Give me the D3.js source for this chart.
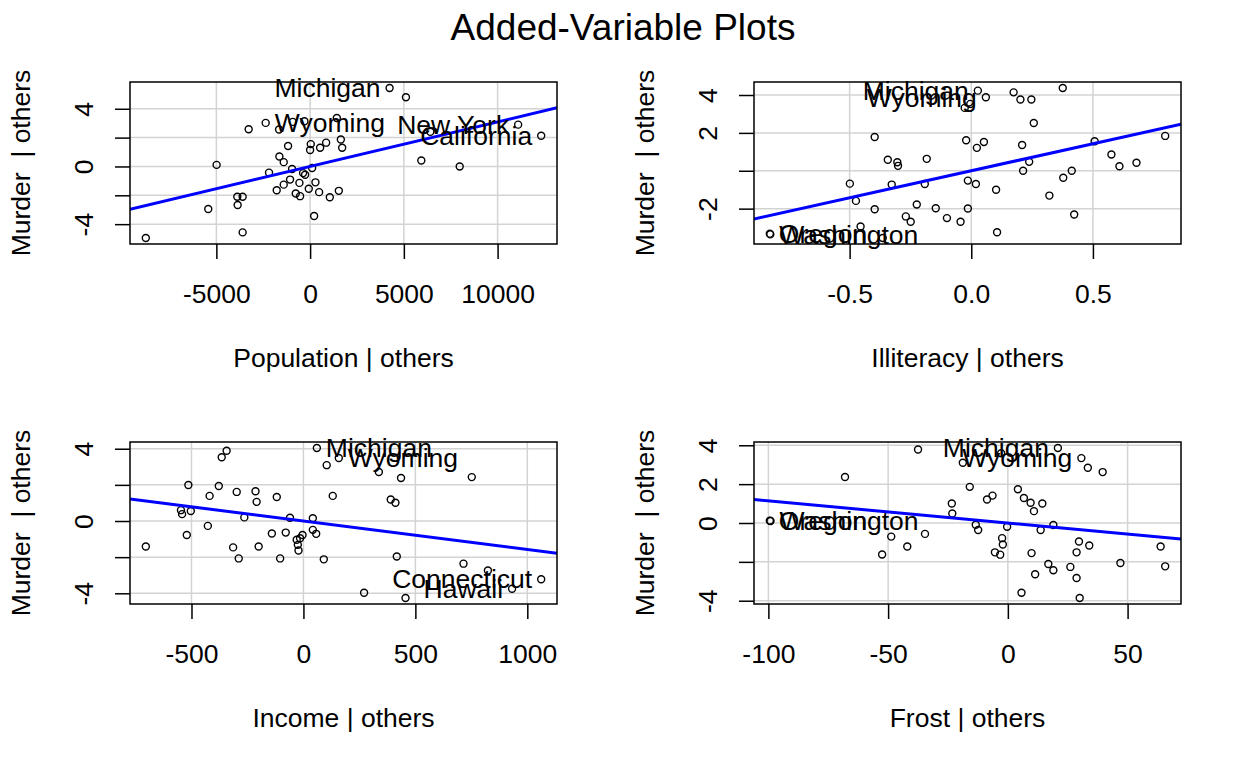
<!DOCTYPE html>
<html>
<head>
<meta charset="utf-8">
<script src="https://cdn.jsdelivr.net/npm/d3@7"></script>
<style>
	body { margin: 0; background: #fff; }
	text { font-family: "Liberation Sans", Arial, sans-serif; fill: #000; }
</style>
</head>
<body>
<div id="chart"></div>
<script>
	// labelled states come first in every series
	var popNames = ["Michigan", "Wyoming", "New York", "California"];
	var popX = [4239, -2369, 11096, 12325, -8763, -5432, -4987, -3883, -3598, -3865, -3598, -3277, -2191, -1781,
		-1656, -1639, -1407, -1407, -1175, -1069, -962, -926, -766, -534, -570, -374, -303, -267, -71, 0, 36, 107,
		214, 285, 481, 534, 855, 1051, 1425, 1532, 1639, 1710, 5111, 5931, 7979, 6412];
	var popY = [5.44, 3.02, 2.90, 2.13, -4.96, -2.95, 0.11, -2.10, -2.10, -2.67, -4.57, 2.58, -0.43, -1.65,
		2.56, 0.69, 0.30, -1.26, 1.42, -0.91, -0.18, 3.09, -1.87, -2.06, -1.14, -0.46, 3.13, -0.57, -1.55, 1.14, 1.55, -0.11,
		-3.43, -1.10, -1.78, 1.30, 1.65, -2.13, 3.36, -1.69, 1.87, 1.30, 4.80, 0.41, 0, 2.40];

	var illNames = ["Michigan", "Wyoming", "Oregon", "Washington"];
	var illX = [0.027, 0.060, -0.828, -0.826, -0.499, -0.474, -0.455, -0.397, -0.397, -0.364, -0.343, -0.327,
		-0.304, -0.301, -0.269, -0.249, -0.224, -0.191, -0.183, -0.146, -0.100, -0.044, -0.027, -0.021, -0.014,
		-0.014, -0.004, 0.019, 0.023, 0.052, 0.102, 0.106, 0.174, 0.202, 0.209, 0.213, 0.238, 0.247, 0.257, 0.321,
		0.376, 0.378, 0.413, 0.423, 0.507, 0.576, 0.609, 0.679, 0.797];
	var illY = [4.23, 3.88, -3.32, -3.36, -0.68, -1.59, -2.94, 1.78, -2.03, -3.55, 0.58, -0.73,
		0.45, 0.26, -2.41, -2.69, -1.78, -0.70, 0.63, -1.98, -2.50, -2.69, 3.32, 1.61, -0.52,
		-1.99, 3.53, -0.70, 1.21, 1.52, -1.00, -3.25, 4.14, 3.76, 1.36, 0, 0.47, 3.76, 2.52, -1.31,
		4.37, -0.37, 0, -2.31, 1.56, 0.86, 0.24, 0.42, 1.84];

	var incNames = ["Michigan", "Wyoming", "Connecticut", "Hawaii"];
	var incX = [60, 158, 1062, 932, -704, -547, -542, -521, -514, -503, -427, -419, -378, -365, -343, -314,
		-298, -289, -264, -214, -209, -200, -141, -119, -104, -79, -60, -30, -25, -22, -15, -4, 42, 42, 57, 91,
		104, 131, 271, 337, 390, 411, 417, 436, 456, 715, 752, 824];
	var incY = [4.04, 3.49, -3.22, -3.75, -1.41, 0.60, 0.38, -0.77, 1.99, 0.55, -0.27, 1.39, 1.94, 3.53, 3.89, -1.46,
		1.61, -2.07, 0.20, 1.65, 1.06, -1.41, -0.69, 1.33, -2.07, -0.64, 0.18, -1.04, -1.32, -1.63, -0.95, -0.77, 0.15, -0.49, -0.71, -2.12,
		3.09, 1.39, -3.97, 2.71, 1.19, 1.01, -1.96, 2.38, -4.26, -2.36, 2.43, -2.74];

	var frostNames = ["Michigan", "Wyoming", "Oregon", "Washington"];
	var frostX = [20.9, 30.7, -99.4, -99.1, -68.0, -52.5, -48.7, -42.0, -37.5, -34.6, -23.4, -23.2, -18.8, -15.9,
		-13.4, -12.4, -8.7, -6.4, -5.4, -3.2, -2.4, -2.1, -0.3, -2.8, 4.2, 5.7, 6.7, 9.5, 9.9, 10.9, 11.4, 13.7,
		14.4, 16.9, 19.0, 19.0, 26.1, 28.7, 28.7, 29.7, 30.0, 33.4, 34.0, 39.6, 47.0, 63.8, 65.7];
	var frostY = [3.86, 3.34, 0.12, 0.10, 2.37, -1.62, -0.70, -1.21, 3.78, -0.56, 1.00, 0.49, 3.10, 1.86,
		-0.09, -0.36, 1.21, 1.41, -1.51, -1.63, -0.78, -1.11, -0.19, 3.59, 1.74, -3.59, 1.29, 1.04, -1.55, 0.61, -2.64, -0.36,
		1.00, -2.11, -0.10, -2.43, -2.26, -1.51, -2.83, -0.95, -3.86, 2.84, -1.16, 2.62, -2.06, -1.21, -2.23];

	// slopes of the fitted lines (they pass through the origin)
	var slopes = [0.000309, 2.85, -0.00157, -0.0114];

	var popTicks = [-5000, 0, 5000, 10000];
	var illTicks = [-0.5, 0, 0.5];
	var incTicks = [-500, 0, 500, 1000];
	var frostTicks = [-100, -50, 0, 50];
	var yTicks = [-4, -2, 0, 2, 4];
	var yShown = [[4, 0, -4], [4, 2, -2], [4, 0, -4], [4, 2, 0, -4]];

	var W = 427, H = 162, fontSize = 26.5;

	// R prints a plain hyphen, not the unicode minus d3 uses
	function rfmt(spec) {
		var f = d3.format(spec);
		return function(d) { return f(d).replace("\u2212", "-"); };
	}

	var panels = [
		{xs: popX, ys: popY, names: popNames, ticks: popTicks, fmt: rfmt("d"), title: "Population | others", left: 130, top: 82},
		{xs: illX, ys: illY, names: illNames, ticks: illTicks, fmt: rfmt(".1f"), title: "Illiteracy | others", left: 754, top: 82},
		{xs: incX, ys: incY, names: incNames, ticks: incTicks, fmt: rfmt("d"), title: "Income | others", left: 130, top: 442},
		{xs: frostX, ys: frostY, names: frostNames, ticks: frostTicks, fmt: rfmt("d"), title: "Frost | others", left: 754, top: 442}
	];

	var svg = d3.select("#chart").append("svg")
		.attr("width", 1248)
		.attr("height", 768);

	svg.append("text")
		.attr("x", 623)
		.attr("y", 40)
		.attr("text-anchor", "middle")
		.style("font-size", "37px")
		.text("Added-Variable Plots");

	// R style range: data extent plus 4% each side
	function padded(vals) {
		var e = d3.extent(vals), p = (e[1] - e[0]) * 0.04;
		return [e[0] - p, e[1] + p];
	}

	var yfmt = rfmt("d");

	panels.forEach(function(p, i) {
		var x = d3.scaleLinear().domain(padded(p.xs)).range([p.left, p.left + W]);
		var y = d3.scaleLinear().domain(padded(p.ys)).range([p.top + H, p.top]);
		var yt = yTicks.filter(function(v) { return v >= y.domain()[0] && v <= y.domain()[1]; });
		var g = svg.append("g");

		g.append("clipPath").attr("id", "clip" + i)
			.append("rect")
			.attr("x", p.left).attr("y", p.top)
			.attr("width", W).attr("height", H);

		// grid
		g.selectAll(".vgrid").data(p.ticks).enter().append("line")
			.attr("x1", function(d) { return x(d); })
			.attr("x2", function(d) { return x(d); })
			.attr("y1", p.top).attr("y2", p.top + H)
			.attr("stroke", "#d3d3d3").attr("stroke-width", 1.5);
		g.selectAll(".hgrid").data(yt).enter().append("line")
			.attr("y1", function(d) { return y(d); })
			.attr("y2", function(d) { return y(d); })
			.attr("x1", p.left).attr("x2", p.left + W)
			.attr("stroke", "#d3d3d3").attr("stroke-width", 1.5);

		// points
		g.selectAll("circle").data(p.xs).enter().append("circle")
			.attr("cx", function(d) { return x(d); })
			.attr("cy", function(d, j) { return y(p.ys[j]); })
			.attr("r", 3.5)
			.attr("fill", "none")
			.attr("stroke", "#000")
			.attr("stroke-width", 1.4);

		// fitted line
		var dom = x.domain();
		g.append("line")
			.attr("clip-path", "url(#clip" + i + ")")
			.attr("x1", x(dom[0])).attr("y1", y(slopes[i] * dom[0]))
			.attr("x2", x(dom[1])).attr("y2", y(slopes[i] * dom[1]))
			.attr("stroke", "#0000ff")
			.attr("stroke-width", 3);

		// point labels
		var mid = (d3.min(p.xs) + d3.max(p.xs)) / 2;
		g.selectAll(".lab").data(p.names).enter().append("text")
			.attr("x", function(d, j) { return x(p.xs[j]) + (p.xs[j] > mid ? -9 : 9); })
			.attr("y", function(d, j) { return y(p.ys[j]); })
			.attr("dy", "0.35em")
			.attr("text-anchor", function(d, j) { return p.xs[j] > mid ? "end" : "start"; })
			.style("font-size", fontSize + "px")
			.text(function(d) { return d; });

		// box
		g.append("rect")
			.attr("x", p.left).attr("y", p.top)
			.attr("width", W).attr("height", H)
			.attr("fill", "none")
			.attr("stroke", "#000")
			.attr("stroke-width", 1.5);

		// axes
		var xa = g.append("g")
			.attr("transform", "translate(0," + (p.top + H) + ")")
			.call(d3.axisBottom(x).tickValues(p.ticks).tickFormat(p.fmt).tickSize(15).tickPadding(25));
		xa.select(".domain").remove();
		xa.selectAll("line").attr("stroke-width", 1.5);
		xa.selectAll("text").style("font-size", fontSize + "px")
			.style("font-family", "'Liberation Sans', Arial, sans-serif");

		var ya = g.append("g")
			.attr("transform", "translate(" + p.left + ",0)")
			.call(d3.axisLeft(y).tickValues(yt).tickSize(15)
				.tickFormat(function(d) { return yShown[i].indexOf(d) >= 0 ? yfmt(d) : ""; }));
		ya.select(".domain").remove();
		ya.selectAll("line").attr("stroke-width", 1.5);
		ya.selectAll("text")
			.attr("x", null).attr("dy", null)
			.attr("transform", "translate(-37,0) rotate(-90)")
			.attr("text-anchor", "middle")
			.style("font-size", fontSize + "px")
			.style("font-family", "'Liberation Sans', Arial, sans-serif");

		// axis titles
		g.append("text")
			.attr("x", p.left + W / 2)
			.attr("y", p.top + H + 123)
			.attr("text-anchor", "middle")
			.style("font-size", fontSize + "px")
			.text(p.title);
		g.append("text")
			.attr("transform", "translate(" + (p.left - 100) + "," + (p.top + H / 2) + ") rotate(-90)")
			.attr("text-anchor", "middle")
			.style("font-size", fontSize + "px")
			.style("white-space", "pre")
			.text("Murder  | others");
	});
</script>
</body>
</html>
